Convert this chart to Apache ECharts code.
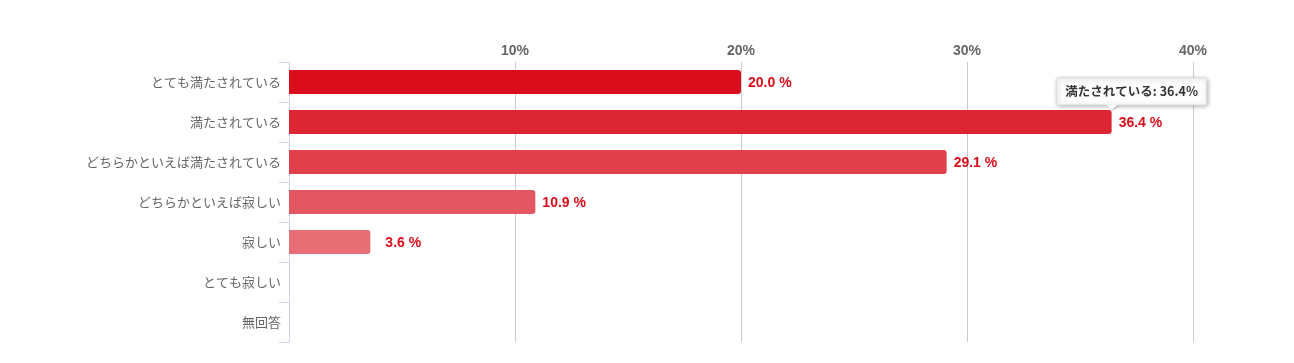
<!DOCTYPE html>
<html><head><meta charset="utf-8">
<script src="https://cdn.jsdelivr.net/npm/echarts@6/dist/echarts.min.js"></script>
<style>html,body{margin:0;padding:0;background:#fff}#c{width:1294px;height:363px}</style>
</head><body><div id="c"></div>
<script>
const categories = ['とても満たされている','満たされている','どちらかといえば満たされている','どちらかといえば寂しい','寂しい','とても寂しい','無回答'];
const values = [20.0, 36.4, 29.1, 10.9, 3.6, 0, 0];
const barColors = ['#d90d1c','#dd2634','#e0404b','#e35762','#e86e76','#ec858c','#f09ca1'];
const xTicks = [0, 10, 20, 30, 40];
const tooltipIndex = 1;

const chart = echarts.init(document.getElementById('c'), null, {renderer:'canvas'});
const font = '"Noto Sans CJK JP", "Noto Sans", sans-serif';
const latin = '"Liberation Sans", Arial, sans-serif';
chart.setOption({
  animation: false,
  grid: {left: 289, right: 101, top: 62, bottom: 21, containLabel: false},
  xAxis: {
    type: 'value', position: 'top', min: xTicks[0], max: xTicks[xTicks.length-1], interval: 10,
    axisLine: {show: false}, axisTick: {show: false},
    axisLabel: {margin: 4, color: '#666', fontWeight: 'bold', fontSize: 14, fontFamily: latin,
      formatter: v => v === 0 ? '' : v + '%'},
    splitLine: {show: true, lineStyle: {color: '#cccccc', width: 1}}
  },
  yAxis: {
    type: 'category', data: categories, inverse: true,
    axisLine: {show: true, lineStyle: {color: '#ccd6eb'}},
    axisTick: {show: true, length: 10, lineStyle: {color: '#ccd6eb'}},
    axisLabel: {margin: 8, color: '#666', fontSize: 13, fontFamily: font}
  },
  series: [{
    type: 'bar', barWidth: 24,
    data: values.map((v, i) => ({value: v, itemStyle: {color: barColors[i], borderRadius: [0,3,3,0]},
      label: {distance: v < 5 ? 15 : 7}})),
    label: {show: true, position: 'right', color: '#d90d1c', fontWeight: 'bold', fontSize: 14,
      fontFamily: latin, offset: [0, 1],
      formatter: p => p.value ? p.value.toFixed(1) + ' %' : ''}
  }]
});

const tip = chart.convertToPixel({xAxisIndex:0, yAxisIndex:0}, [values[tooltipIndex], categories[tooltipIndex]]);
const tipX = tip[0], tipY = tip[1] - 12;
const bw = 150, bh = 27, boxLeft = tipX - 55, boxTop = tipY - 5 - bh;
chart.setOption({
  graphic: [
    {type: 'rect', z: 100, shape: {x: boxLeft, y: boxTop, width: bw, height: bh, r: 2},
      style: {fill: 'rgba(255,255,255,0.97)', stroke: '#dddddd', lineWidth: 1,
        shadowBlur: 4, shadowOffsetX: 1, shadowOffsetY: 1, shadowColor: 'rgba(0,0,0,0.3)'}},
    {type: 'polygon', z: 101, shape: {points: [[tipX-6, boxTop+bh-0.5],[tipX+6, boxTop+bh-0.5],[tipX, tipY]]},
      style: {fill: '#ffffff', shadowBlur: 2, shadowOffsetX: 1, shadowOffsetY: 1, shadowColor: 'rgba(0,0,0,0.2)'}},
    {type: 'text', z: 102, x: boxLeft + bw/2, y: boxTop + bh/2,
      style: {text: categories[tooltipIndex] + ': ' + values[tooltipIndex].toFixed(1) + '%',
        fill: '#333', fontSize: 12.5, fontWeight: 'bold', fontFamily: font, align: 'center', verticalAlign: 'middle'}}
  ]
});
</script></body></html>
